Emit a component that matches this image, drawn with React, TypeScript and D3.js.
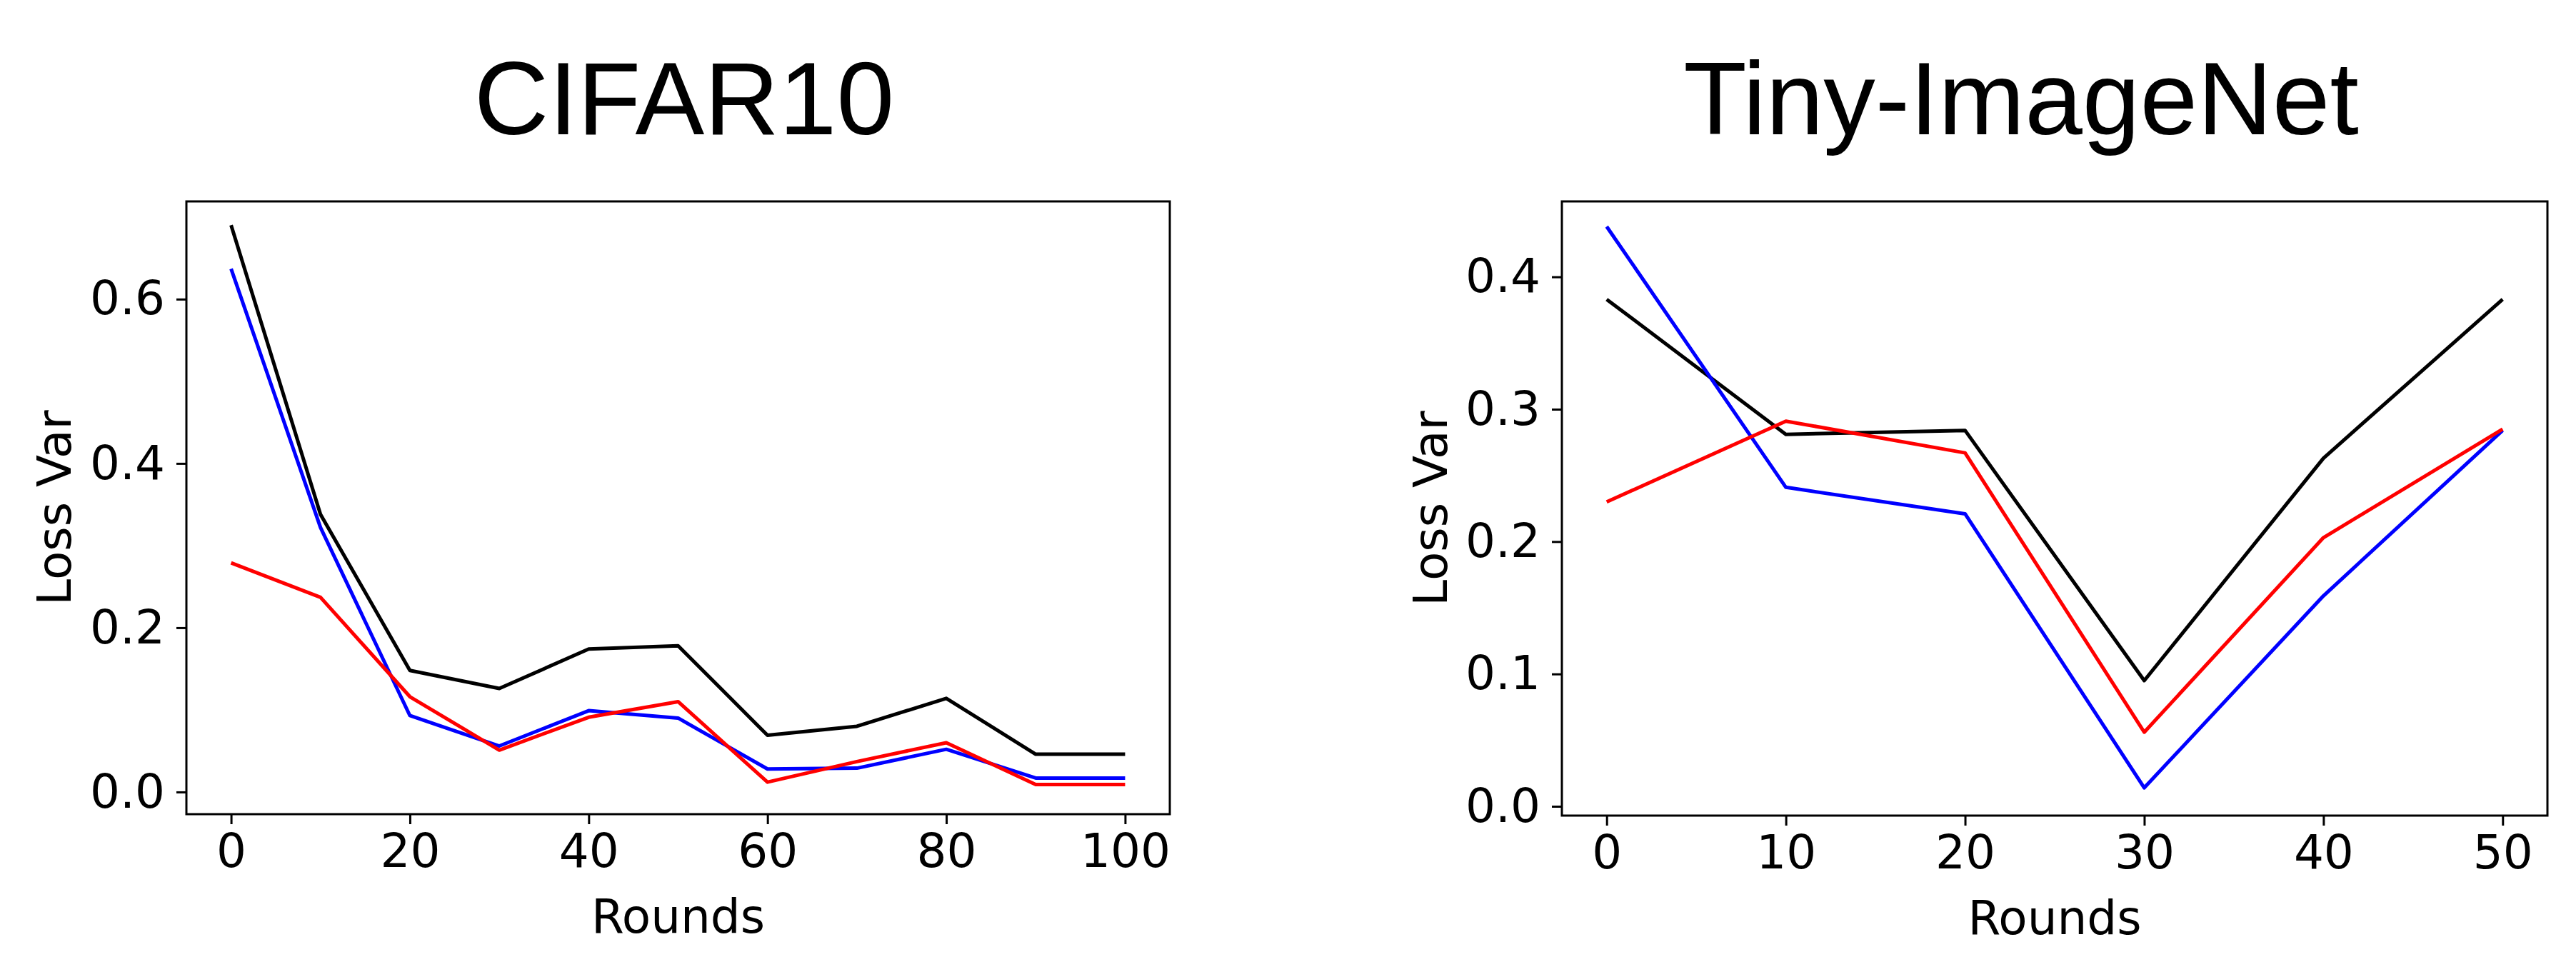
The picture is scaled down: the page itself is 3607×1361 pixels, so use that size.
import React, { useEffect, useRef } from "react";
import * as d3 from "d3";

// CIFAR10 panel
const cifarRounds = [0, 10, 20, 30, 40, 50, 60, 70, 80, 90, 100];
const cifarBlack = [0.69, 0.338, 0.148, 0.126, 0.174, 0.178, 0.069, 0.08, 0.114, 0.046, 0.046];
const cifarBlue = [0.637, 0.322, 0.093, 0.056, 0.099, 0.09, 0.028, 0.029, 0.052, 0.017, 0.017];
const cifarRed = [0.279, 0.237, 0.116, 0.051, 0.091, 0.11, 0.012, 0.037, 0.06, 0.009, 0.009];
const cifarXTicks = [0, 20, 40, 60, 80, 100];
const cifarYTicks = [0, 0.2, 0.4, 0.6];

// Tiny-ImageNet panel
const tinyRounds = [0, 10, 20, 30, 40, 50];
const tinyBlack = [0.383, 0.281, 0.284, 0.095, 0.263, 0.383];
const tinyBlue = [0.438, 0.241, 0.221, 0.014, 0.159, 0.284];
const tinyRed = [0.23, 0.291, 0.267, 0.056, 0.203, 0.285];
const tinyXTicks = [0, 10, 20, 30, 40, 50];
const tinyYTicks = [0, 0.1, 0.2, 0.3, 0.4];

const W = 3607;
const H = 1361;
const tickFont = "'DejaVu Sans', sans-serif";

interface Panel {
  title: string;
  rounds: number[];
  series: { values: number[]; color: string }[];
  xTicks: number[];
  yTicks: number[];
  xDomain: [number, number];
  yDomain: [number, number];
  left: number;
  right: number;
  top: number;
  bottom: number;
  titleX: number;
  yLabelX: number;
}

const panels: Panel[] = [
  {
    title: "CIFAR10",
    rounds: cifarRounds,
    series: [
      { values: cifarBlack, color: "#000000" },
      { values: cifarBlue, color: "#0000ff" },
      { values: cifarRed, color: "#ff0000" },
    ],
    xTicks: cifarXTicks,
    yTicks: cifarYTicks,
    xDomain: [-5, 105],
    yDomain: [-0.027, 0.719],
    left: 261,
    right: 1638,
    top: 282,
    bottom: 1140,
    titleX: 958,
    yLabelX: 99,
  },
  {
    title: "Tiny-ImageNet",
    rounds: tinyRounds,
    series: [
      { values: tinyBlack, color: "#000000" },
      { values: tinyBlue, color: "#0000ff" },
      { values: tinyRed, color: "#ff0000" },
    ],
    xTicks: tinyXTicks,
    yTicks: tinyYTicks,
    xDomain: [-2.5, 52.5],
    yDomain: [-0.007, 0.457],
    left: 2187,
    right: 3567,
    top: 282,
    bottom: 1142,
    titleX: 2830,
    yLabelX: 2026,
  },
];

const App: React.FC = () => {
  const svgRef = useRef<SVGSVGElement | null>(null);

  useEffect(() => {
    document.body.style.margin = "0";
    if (!svgRef.current) return;
    const svg = d3.select(svgRef.current);
    svg.selectAll("*").remove();

    svg.append("rect").attr("width", W).attr("height", H).attr("fill", "#fff");

    panels.forEach((p) => {
      const x = d3.scaleLinear().domain(p.xDomain).range([p.left, p.right]);
      const y = d3.scaleLinear().domain(p.yDomain).range([p.bottom, p.top]);

      // title
      svg
        .append("text")
        .attr("x", p.titleX)
        .attr("y", 188)
        .attr("text-anchor", "middle")
        .attr("font-family", "'Liberation Sans', Arial, sans-serif")
        .attr("font-size", 145)
        .text(p.title);

      // lines
      const line = d3
        .line<number>()
        .x((_, i) => x(p.rounds[i]))
        .y((d) => y(d));

      p.series.forEach((s) => {
        svg
          .append("path")
          .datum(s.values)
          .attr("fill", "none")
          .attr("stroke", s.color)
          .attr("stroke-width", 5)
          .attr("stroke-linejoin", "round")
          .attr("d", line);
      });

      // axes
      const xAxis = svg
        .append("g")
        .attr("transform", `translate(0,${p.bottom})`)
        .call(
          d3
            .axisBottom(x)
            .tickValues(p.xTicks)
            .tickFormat(d3.format("d"))
            .tickSizeInner(14)
            .tickSizeOuter(0)
            .tickPadding(13)
        );
      xAxis.select(".domain").remove();

      const yAxis = svg
        .append("g")
        .attr("transform", `translate(${p.left},0)`)
        .call(
          d3
            .axisLeft(y)
            .tickValues(p.yTicks)
            .tickFormat(d3.format(".1f"))
            .tickSizeInner(14)
            .tickSizeOuter(0)
            .tickPadding(16)
        );
      yAxis.select(".domain").remove();

      [xAxis, yAxis].forEach((a) => {
        a.selectAll(".tick line").attr("stroke", "#000").attr("stroke-width", 3);
        a.selectAll(".tick text")
          .attr("font-family", tickFont)
          .attr("font-size", 66)
          .attr("fill", "#000");
      });

      // frame
      svg
        .append("rect")
        .attr("x", p.left)
        .attr("y", p.top)
        .attr("width", p.right - p.left)
        .attr("height", p.bottom - p.top)
        .attr("fill", "none")
        .attr("stroke", "#000")
        .attr("stroke-width", 3);

      // axis labels
      svg
        .append("text")
        .attr("x", (p.left + p.right) / 2)
        .attr("y", p.bottom + 166)
        .attr("text-anchor", "middle")
        .attr("font-family", tickFont)
        .attr("font-size", 66)
        .text("Rounds");

      svg
        .append("text")
        .attr("transform", `translate(${p.yLabelX},${(p.top + p.bottom) / 2}) rotate(-90)`)
        .attr("text-anchor", "middle")
        .attr("font-family", tickFont)
        .attr("font-size", 66)
        .text("Loss Var");
    });
  }, []);

  return <svg ref={svgRef} width={W} height={H} style={{ display: "block" }}></svg>;
};

export default App;
